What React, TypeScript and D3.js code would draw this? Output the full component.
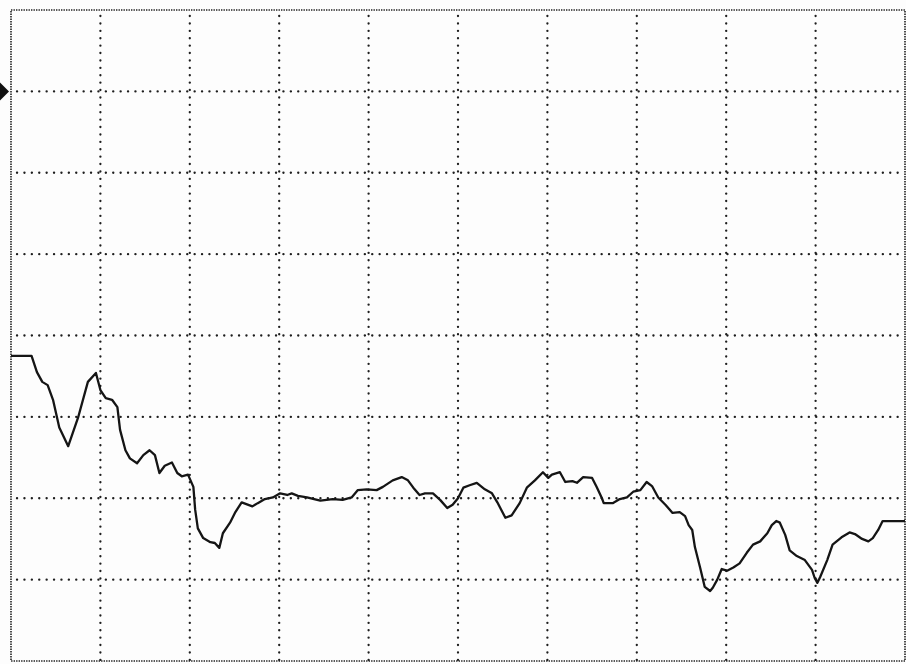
import React, { useEffect, useRef } from 'react';
import * as d3 from 'd3';

// trace: x in grid tenths (0..100), y in grid tenths (0..80, bottom = 0)
const traceX = [
  0, 2.3, 2.9, 3.5, 4.1, 4.7, 5.4, 6.4, 7.5, 8.6, 9.5, 10.0, 10.6, 11.3, 11.9, 12.2, 12.8, 13.3, 14.1, 14.8,
  15.5, 16.1, 16.6, 17.2, 18.0, 18.6, 19.1, 19.8, 20.4, 20.6, 20.9, 21.5, 22.3, 22.8, 23.3, 23.7, 24.5, 25.1,
  25.8, 27.0, 27.6, 28.4, 29.3, 30.1, 30.9, 31.4, 32.1, 33.1, 34.6, 36.0, 37.1, 38.1, 38.8, 39.8, 40.9, 41.6,
  42.7, 43.7, 44.4, 45.0, 45.7, 46.3, 47.2, 48.0, 48.8, 49.4, 50.0, 50.6, 51.3, 52.1, 53.0, 53.8, 54.4, 55.3,
  56.0, 56.9, 57.7, 58.6, 59.5, 60.1, 60.5, 61.4, 62.0, 62.8, 63.3, 64.0, 65.0, 65.5, 66.1, 66.3, 67.3, 68.1,
  68.9, 69.6, 70.4, 71.1, 71.7, 72.4, 73.2, 74.0, 74.8, 75.4, 75.8, 76.2, 76.5, 77.1, 77.6, 78.2, 78.5, 79.0,
  79.5, 80.1, 80.8, 81.5, 82.3, 83.0, 83.8, 84.6, 85.1, 85.6, 86.0, 86.6, 87.1, 87.9, 88.8, 89.6, 89.9, 90.2,
  90.5, 91.3, 91.9, 92.9, 93.8, 94.4, 95.2, 95.9, 96.4, 97.0, 97.5, 100,
];
const traceY = [
  37.5, 37.5, 35.5, 34.3, 33.9, 32.1, 28.7, 26.4, 29.9, 34.3, 35.4, 33.3, 32.3, 32.1, 31.2, 28.4, 25.9, 24.9, 24.3, 25.3,
  25.9, 25.3, 23.1, 24.0, 24.4, 23.1, 22.7, 22.9, 21.4, 18.6, 16.3, 15.1, 14.6, 14.5, 13.9, 15.7, 17.0, 18.3,
  19.5, 19.0, 19.4, 19.9, 20.1, 20.6, 20.4, 20.6, 20.3, 20.1, 19.7, 19.9, 19.8, 20.1, 21.0, 21.1, 21.0, 21.4,
  22.2, 22.6, 22.2, 21.3, 20.4, 20.6, 20.6, 19.8, 18.8, 19.2, 20.0, 21.3, 21.6, 21.9, 21.1, 20.6, 19.5, 17.6,
  17.9, 19.4, 21.3, 22.2, 23.2, 22.5, 22.9, 23.2, 22.0, 22.1, 21.9, 22.6, 22.5, 21.4, 20.0, 19.4, 19.4, 19.9,
  20.1, 20.8, 21.0, 22.0, 21.5, 20.1, 19.2, 18.2, 18.3, 17.8, 16.7, 16.1, 14.0, 11.4, 9.1, 8.6, 9.0, 10.0,
  11.3, 11.1, 11.5, 12.0, 13.3, 14.3, 14.7, 15.7, 16.7, 17.2, 17.0, 15.5, 13.6, 12.9, 12.4, 11.2, 10.2, 9.6,
  10.3, 12.4, 14.3, 15.2, 15.8, 15.6, 15.0, 14.7, 15.1, 16.1, 17.2, 17.2,
];
const gridX = [10, 20, 30, 40, 50, 60, 70, 80, 90];
const gridY = [10, 20, 30, 40, 50, 60, 70];
const markerLevel = 70;

const App: React.FC = () => {
  const svgRef = useRef<SVGSVGElement>(null);

  useEffect(() => {
    if (!svgRef.current) return;
    const svg = d3.select(svgRef.current);
    svg.selectAll('*').remove();

    const width = 906;
    const height = 664;
    const frame = { left: 11, right: 905, top: 10, bottom: 661 };

    const x = d3.scaleLinear().domain([0, 100]).range([frame.left, frame.right]);
    const y = d3.scaleLinear().domain([0, 80]).range([frame.bottom, frame.top]);

    svg.attr('viewBox', [0, 0, width, height]).attr('width', width).attr('height', height);
    svg.append('rect').attr('width', width).attr('height', height).attr('fill', '#fdfdfd');

    const grid = svg.append('g')
      .attr('stroke', '#1e1e1e')
      .attr('stroke-width', 2.3)
      .attr('stroke-linecap', 'round')
      .attr('stroke-dasharray', '0.1 7.3');

    grid.selectAll('.vgrid')
      .data(gridX)
      .join('line')
      .attr('class', 'vgrid')
      .attr('x1', d => x(d)).attr('x2', d => x(d))
      .attr('y1', y(80) + 6).attr('y2', y(0));

    grid.selectAll('.hgrid')
      .data(gridY)
      .join('line')
      .attr('class', 'hgrid')
      .attr('x1', x(0) + 6).attr('x2', x(100))
      .attr('y1', d => y(d)).attr('y2', d => y(d));

    // dense dotted frame
    svg.append('rect')
      .attr('x', x(0)).attr('y', y(80))
      .attr('width', x(100) - x(0)).attr('height', y(0) - y(80))
      .attr('fill', 'none')
      .attr('stroke', '#222')
      .attr('stroke-width', 1.6)
      .attr('stroke-dasharray', '1.4 1.1');

    // left pointer
    const my = y(markerLevel);
    svg.append('path')
      .attr('d', `M0,${my - 9}L9,${my}L0,${my + 9}Z`)
      .attr('fill', '#111');

    const line = d3.line<number>()
      .x((_, i) => x(traceX[i]))
      .y(d => y(d))
      .curve(d3.curveLinear);

    svg.append('path')
      .datum(traceY)
      .attr('d', line)
      .attr('fill', 'none')
      .attr('stroke', '#151515')
      .attr('stroke-width', 2.3)
      .attr('stroke-linejoin', 'round');
  }, []);

  return (
    <div style={{ position: 'absolute', left: 0, top: 0 }}>
      <svg ref={svgRef} style={{ display: 'block' }} />
    </div>
  );
};

export default App;
